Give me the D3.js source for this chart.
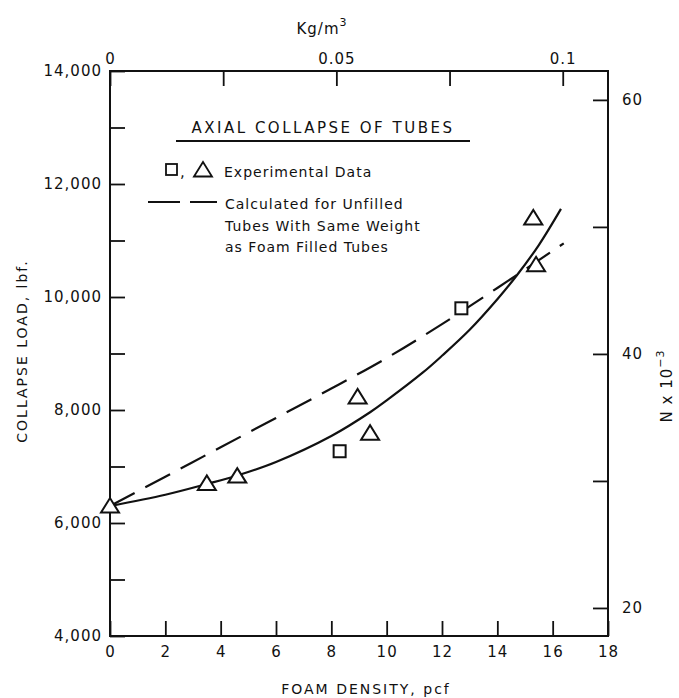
<!DOCTYPE html>
<html>
<head>
<meta charset="utf-8">
<script src="https://cdn.jsdelivr.net/npm/d3@7"></script>
<style>
  body { margin: 0; background: #fff; }
  svg text { font-family: "DejaVu Sans", sans-serif; fill: #111; }
</style>
</head>
<body>
<div id="chart"></div>
<script>
// --- data ---
var xTicks = [0, 2, 4, 6, 8, 10, 12, 14, 16, 18];          // foam density, pcf
var yTicks = [4000, 5000, 6000, 7000, 8000, 9000, 10000, 11000, 12000, 13000, 14000];
var yLabelled = [4000, 6000, 8000, 10000, 12000, 14000];
var topTicks = [0, 0.025, 0.05, 0.075, 0.1];
var topLabels = { "0": "0", "0.05": "0.05", "0.1": "0.1" };
var rightTicks = [20, 30, 40, 50, 60];                      // N x 10^-3
var rightLabelled = [20, 40, 60];

// experimental data
var triX = [0, 3.5, 4.6, 8.95, 9.4, 15.3, 15.4];
var triY = [6300, 6700, 6830, 8230, 7590, 11400, 10570];
var sqX = [8.3, 12.7];
var sqY = [7270, 9800];

// fitted curve through the foam filled tubes (solid)
var fitX = [0, 2, 3.5, 4.6, 6, 8, 9.4, 10, 11.3, 12, 13, 14, 14.7, 15.5, 16.3];
var fitY = [6300, 6500, 6690, 6840, 7080, 7540, 7960, 8170, 8660, 8960, 9420, 9960, 10380, 10920, 11560];

// calculated for unfilled tubes of same weight (dashed)
var calcX = [0, 2, 4, 6, 8, 10, 12, 14, 16.4];
var calcY = [6300, 6820, 7340, 7860, 8380, 8920, 9520, 10160, 10950];

var width = 679, height = 698
	, margin = { top: 71, right: 71, bottom: 62, left: 110 }
	, lbfPerKN = 224.81;

var svg = d3.select("#chart").append("svg")
	.attr("width", width)
	.attr("height", height);

var x = d3.scaleLinear().domain([0, 18]).range([margin.left, width - margin.right]);
var y = d3.scaleLinear().domain([4000, 14000]).range([height - margin.bottom, margin.top]);
// top axis (density in the other unit) and right axis (kN) share the same frame
var xTop = d3.scaleLinear().domain([0, 0.11]).range([margin.left, width - margin.right]);
var yRight = d3.scaleLinear()
	.domain([4000 / lbfPerKN, 14000 / lbfPerKN])
	.range([height - margin.bottom, margin.top]);

var tickLen = 15;

// --- axes --- \\
var fmt = d3.format(",");

svg.append("g")
	.attr("class", "axis-left")
	.attr("transform", "translate(" + margin.left + ",0)")
	.call(d3.axisLeft(y).tickValues(yTicks)
		.tickSizeInner(-tickLen).tickSizeOuter(0).tickPadding(8)
		.tickFormat(function (d) { return yLabelled.indexOf(d) >= 0 ? fmt(d) : ""; }));

svg.append("g")
	.attr("class", "axis-bottom")
	.attr("transform", "translate(0," + (height - margin.bottom) + ")")
	.call(d3.axisBottom(x).tickValues(xTicks)
		.tickSizeInner(-tickLen).tickSizeOuter(0).tickPadding(10));

svg.append("g")
	.attr("class", "axis-top")
	.attr("transform", "translate(0," + margin.top + ")")
	.call(d3.axisTop(xTop).tickValues(topTicks)
		.tickSizeInner(-tickLen).tickSizeOuter(0).tickPadding(7)
		.tickFormat(function (d) { return topLabels[String(d)] || ""; }));

svg.append("g")
	.attr("class", "axis-right")
	.attr("transform", "translate(" + (width - margin.right) + ",0)")
	.call(d3.axisRight(yRight).tickValues(rightTicks)
		.tickSizeInner(-tickLen).tickSizeOuter(0).tickPadding(14)
		.tickFormat(function (d) { return rightLabelled.indexOf(d) >= 0 ? d : ""; }));

svg.selectAll(".domain").remove();
svg.selectAll(".tick line").attr("stroke", "#111").attr("stroke-width", 1.8);
svg.selectAll(".tick text")
	.attr("font-size", 15)
	.style("letter-spacing", "1px")
	.attr("fill", "#111");

// frame
svg.append("rect")
	.attr("x", margin.left).attr("y", margin.top)
	.attr("width", width - margin.left - margin.right)
	.attr("height", height - margin.top - margin.bottom)
	.attr("fill", "none")
	.attr("stroke", "#111")
	.attr("stroke-width", 2);

// --- axis titles --- \\
svg.append("text")
	.attr("transform", "translate(27," + 351 + ") rotate(-90)")
	.attr("text-anchor", "middle")
	.attr("font-size", 14)
	.style("letter-spacing", "2px")
	.text("COLLAPSE LOAD, lbf.");

svg.append("text")
	.attr("x", 366).attr("y", 694)
	.attr("text-anchor", "middle")
	.attr("font-size", 14)
	.style("letter-spacing", "2px")
	.text("FOAM DENSITY, pcf");

var kg = svg.append("text")
	.attr("x", 322).attr("y", 34)
	.attr("text-anchor", "middle")
	.attr("font-size", 15)
	.style("letter-spacing", "1px");
kg.append("tspan").text("Kg/m");
kg.append("tspan").attr("dy", -8).attr("font-size", 11).text("3");

var nt = svg.append("text")
	.attr("transform", "translate(672," + 386 + ") rotate(-90)")
	.attr("text-anchor", "middle")
	.attr("font-size", 15)
	.style("letter-spacing", "1px");
nt.append("tspan").text("N x 10");
nt.append("tspan").attr("dy", -8).attr("font-size", 11).text("\u22123");

// --- curves --- \\
var line = d3.line()
	.x(function (d) { return x(d[0]); })
	.y(function (d) { return y(d[1]); })
	.curve(d3.curveCatmullRom.alpha(0.5));

svg.append("path")
	.datum(calcX.map(function (v, i) { return [v, calcY[i]]; }))
	.attr("d", line)
	.attr("fill", "none")
	.attr("stroke", "#111")
	.attr("stroke-width", 2.2)
	.attr("stroke-dasharray", "28,12");

svg.append("path")
	.datum(fitX.map(function (v, i) { return [v, fitY[i]]; }))
	.attr("d", line)
	.attr("fill", "none")
	.attr("stroke", "#111")
	.attr("stroke-width", 2.2);

// --- markers --- \\
function triPath(cx, cy) {
	return "M" + (cx - 9) + "," + (cy + 6.5) + "L" + cx + "," + (cy - 8) + "L" + (cx + 9) + "," + (cy + 6.5) + "Z";
}

svg.selectAll(".tri")
	.data(triX.map(function (v, i) { return [v, triY[i]]; }))
	.enter().append("path")
	.attr("class", "tri")
	.attr("d", function (d) { return triPath(x(d[0]), y(d[1])); })
	.attr("fill", "#fff")
	.attr("stroke", "#111")
	.attr("stroke-width", 2);

svg.selectAll(".sq")
	.data(sqX.map(function (v, i) { return [v, sqY[i]]; }))
	.enter().append("rect")
	.attr("class", "sq")
	.attr("x", function (d) { return x(d[0]) - 6; })
	.attr("y", function (d) { return y(d[1]) - 6; })
	.attr("width", 12).attr("height", 12)
	.attr("fill", "#fff")
	.attr("stroke", "#111")
	.attr("stroke-width", 2);

// --- legend --- \\
var legend = svg.append("g").attr("class", "legend");

legend.append("text")
	.attr("x", 323).attr("y", 133)
	.attr("text-anchor", "middle")
	.attr("font-size", 15)
	.style("letter-spacing", "2.5px")
	.text("AXIAL COLLAPSE OF TUBES");
legend.append("line")
	.attr("x1", 176).attr("x2", 470)
	.attr("y1", 141).attr("y2", 141)
	.attr("stroke", "#111").attr("stroke-width", 2);

legend.append("rect")
	.attr("x", 166).attr("y", 164).attr("width", 11).attr("height", 11)
	.attr("fill", "none").attr("stroke", "#111").attr("stroke-width", 1.8);
legend.append("text")
	.attr("x", 180).attr("y", 177)
	.attr("font-size", 15)
	.text(",");
legend.append("path")
	.attr("d", triPath(203, 170))
	.attr("fill", "none").attr("stroke", "#111").attr("stroke-width", 1.8);
legend.append("text")
	.attr("x", 224).attr("y", 177)
	.attr("font-size", 14)
	.style("letter-spacing", "1px")
	.text("Experimental Data");

legend.append("line")
	.attr("x1", 148).attr("x2", 217)
	.attr("y1", 202).attr("y2", 202)
	.attr("stroke", "#111").attr("stroke-width", 2)
	.attr("stroke-dasharray", "32,10");

var calcLines = ["Calculated for Unfilled", "Tubes With Same Weight", "as Foam Filled Tubes"];
legend.selectAll(".calc-text")
	.data(calcLines)
	.enter().append("text")
	.attr("class", "calc-text")
	.attr("x", 225)
	.attr("y", function (d, i) { return 209 + i * 21.5; })
	.attr("font-size", 14)
	.style("letter-spacing", "1px")
	.text(function (d) { return d; });
</script>
</body>
</html>
